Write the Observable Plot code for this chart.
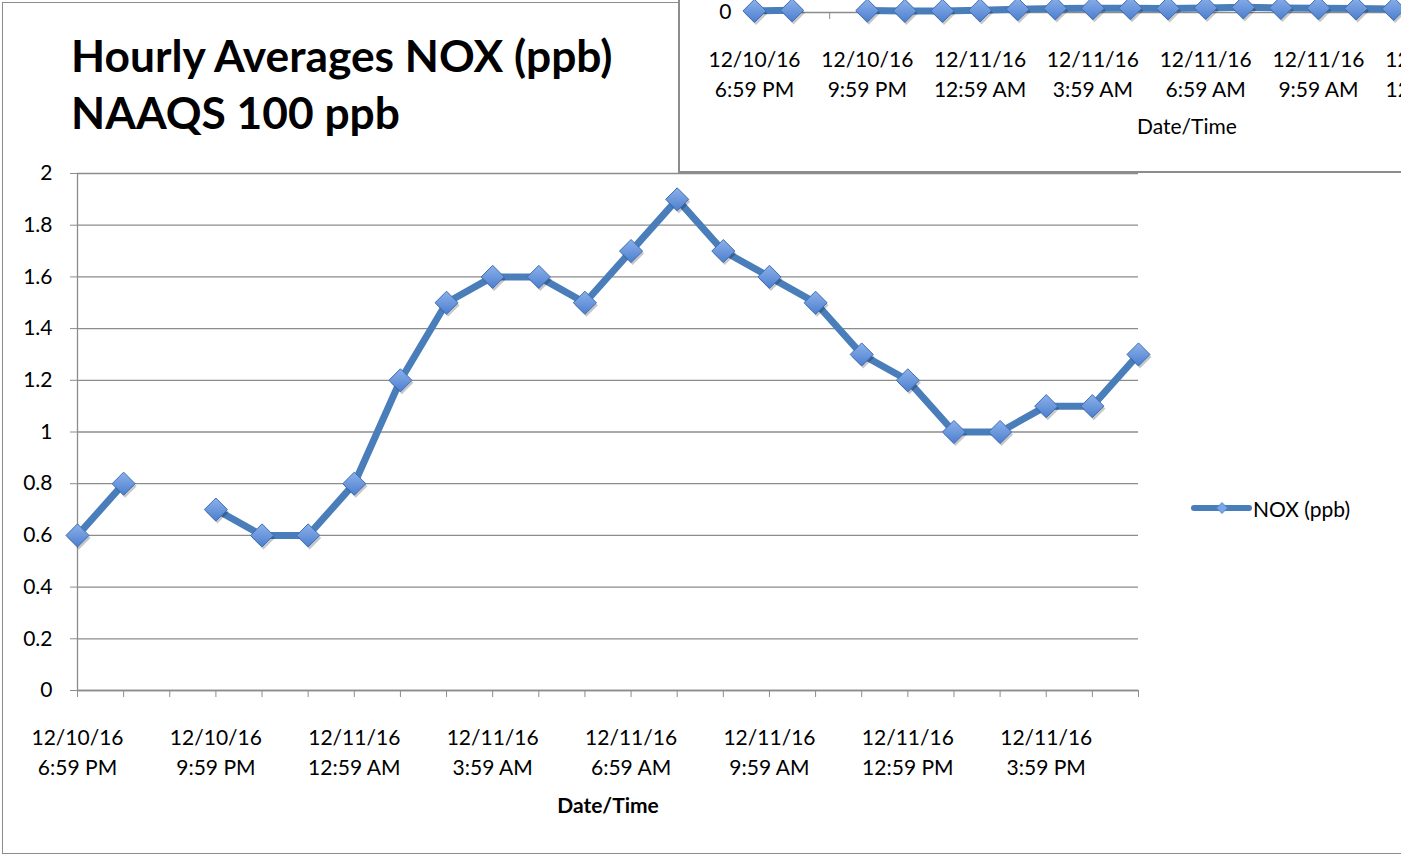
<!DOCTYPE html>
<html>
<head>
<meta charset="utf-8">
<script src="https://cdn.jsdelivr.net/npm/d3@7"></script>
<script src="https://cdn.jsdelivr.net/npm/@observablehq/plot@0.6"></script>
<style>
  html, body { margin:0; padding:0; width:1401px; height:855px; overflow:hidden; background:#fff; font-family:Lato, sans-serif; }
  #main { position:absolute; left:2px; top:2px; width:1500px; height:850px; border:1px solid #8c8c8c; border-right:none; background:#fff; }
  #title { position:absolute; left:68px; top:23px; font-weight:bold; font-size:44.3px; line-height:57px; color:#000; white-space:nowrap; }
  #chart { position:absolute; left:0; top:148px; width:1398px; }
  #legend { position:absolute; left:1185px; top:493px; height:24px; display:flex; align-items:center; font-size:21px; color:#000; white-space:nowrap; }
  #overlay { position:absolute; left:678px; top:0; width:800px; height:171px; border-left:2px solid #8c8c8c; border-bottom:2px solid #8c8c8c; background:#fff; overflow:hidden; }
  #chart2 { position:absolute; left:0; top:-312px; width:1000px; height:484px; }
  svg { max-width:none !important; }
</style>
</head>
<body>
<div id="main">
  <div id="title">Hourly Averages NOX (ppb)<br>NAAQS 100 ppb</div>
  <div id="chart"></div>
  <div id="legend"></div>
</div>
<div id="overlay"><div id="chart2"></div></div>
<script>
// ---- data ----
const times = [
  "12/10/16 6:59 PM", "12/10/16 7:59 PM", "12/10/16 8:59 PM", "12/10/16 9:59 PM",
  "12/10/16 10:59 PM", "12/10/16 11:59 PM", "12/11/16 12:59 AM", "12/11/16 1:59 AM",
  "12/11/16 2:59 AM", "12/11/16 3:59 AM", "12/11/16 4:59 AM", "12/11/16 5:59 AM",
  "12/11/16 6:59 AM", "12/11/16 7:59 AM", "12/11/16 8:59 AM", "12/11/16 9:59 AM",
  "12/11/16 10:59 AM", "12/11/16 11:59 AM", "12/11/16 12:59 PM", "12/11/16 1:59 PM",
  "12/11/16 2:59 PM", "12/11/16 3:59 PM", "12/11/16 4:59 PM", "12/11/16 5:59 PM"
];
const nox = [0.6, 0.8, null, 0.7, 0.6, 0.6, 0.8, 1.2, 1.5, 1.6, 1.6, 1.5,
             1.7, 1.9, 1.7, 1.6, 1.5, 1.3, 1.2, 1.0, 1.0, 1.1, 1.1, 1.3];
const labeledTimes = [
  "12/10/16 6:59 PM", "12/10/16 9:59 PM", "12/11/16 12:59 AM", "12/11/16 3:59 AM",
  "12/11/16 6:59 AM", "12/11/16 9:59 AM", "12/11/16 12:59 PM", "12/11/16 3:59 PM"
];
const yTicks = [0, 0.2, 0.4, 0.6, 0.8, 1, 1.2, 1.4, 1.6, 1.8, 2];
const seriesName = "NOX (ppb)";
const xTitle = "Date/Time";

// ---- table ----
const table = times.map((t, i) => ({time: t, value: nox[i] == null ? NaN : nox[i]}));
const points = table.filter(d => !isNaN(d.value));

const lineColor = "#4a7ebb";
const axisGray = "#8c8c8c";
const xFmt = d => labeledTimes.includes(d) ? d.replace(" ", "\n") : "";

function gradientDefs(id) {
  return () => {
    const defs = d3.create("svg:defs");
    const g = defs.append("linearGradient").attr("id", id)
      .attr("x1", 0).attr("y1", 0).attr("x2", 0).attr("y2", 1);
    g.append("stop").attr("offset", "0%").attr("stop-color", "#8db1ea");
    g.append("stop").attr("offset", "100%").attr("stop-color", "#4c7fcf");
    return defs.node();
  };
}

function seriesMarks(gid) {
  return [
    Plot.line(table, {x: "time", y: "value", stroke: lineColor, strokeWidth: 7, strokeLinejoin: "round"}),
    Plot.dot(points, {x: "time", y: "value", symbol: "diamond2", r: 10.4, fill: "#000", fillOpacity: 0.22, stroke: "none", dx: 1.5, dy: 2.5}),
    Plot.dot(points, {x: "time", y: "value", symbol: "diamond2", r: 10.4, fill: `url(#${gid})`, stroke: "#3d6eb4", strokeWidth: 1})
  ];
}

// ---- main chart ----
const chart = Plot.plot({
  width: 1398, height: 702,
  marginTop: 22, marginBottom: 163, marginLeft: 74, marginRight: 263,
  style: {fontFamily: "Lato, sans-serif", fontSize: "21px", color: "#000", background: "transparent", overflow: "visible", maxWidth: "none"},
  x: {type: "point", domain: times, padding: 0, round: false, label: null},
  y: {domain: [0, 2], label: null},
  marks: [
    gradientDefs("dg1"),
    Plot.gridY(yTicks, {stroke: axisGray, strokeOpacity: 1, strokeWidth: 1.3}),
    Plot.ruleX([times[0]], {stroke: axisGray, strokeWidth: 1.3}),
    Plot.ruleY([0], {stroke: axisGray, strokeWidth: 1.3}),
    Plot.axisY(yTicks, {tickSize: 7, tickPadding: 18, stroke: axisGray, fill: "#000",
      tickFormat: d => String(+d.toFixed(1))}),
    Plot.axisX(times, {tickSize: 7, tickPadding: 26, stroke: axisGray, fill: "#000",
      tickFormat: xFmt, lineHeight: 1.43, label: null}),
    Plot.text([xTitle], {frameAnchor: "bottom", lineAnchor: "middle", dy: 116, fontWeight: "bold", fill: "#000", fontSize: 21}),
    ...seriesMarks("dg1")
  ]
});
document.getElementById("chart").appendChild(chart);

// ---- legend ----
document.getElementById("legend").innerHTML =
  `<svg width="65" height="24" style="display:block"><line x1="6" y1="12" x2="61" y2="12" stroke="${lineColor}" stroke-width="6" stroke-linecap="round"/>` +
  `<path d="M34,6.5L39.5,12L34,17.5L28.5,12Z" fill="#7aa5e6" stroke="#4c7fcf" stroke-width="0.8"/></svg>` +
  `<span>${seriesName}</span>`;

// ---- overlapping second chart (only its bottom strip visible) ----
const chart2 = Plot.plot({
  width: 1000, height: 484,
  marginTop: 0, marginBottom: 160, marginLeft: 74, marginRight: 61.2,
  style: {fontFamily: "Lato, sans-serif", fontSize: "21px", color: "#000", background: "transparent", overflow: "visible", maxWidth: "none"},
  x: {type: "point", domain: times, padding: 0, round: false, label: null},
  y: {domain: [0, 120], label: null},
  marks: [
    gradientDefs("dg2"),
    Plot.ruleY([0], {stroke: axisGray, strokeWidth: 1.3}),
    Plot.axisY([0], {tickSize: 7, tickPadding: 16, stroke: axisGray, fill: "#000", tickFormat: d => String(d)}),
    Plot.axisX(times, {tickSize: 7, tickPadding: 26, stroke: axisGray, fill: "#000",
      tickFormat: xFmt, lineHeight: 1.43, label: null}),
    Plot.text([xTitle], {frameAnchor: "bottom", lineAnchor: "middle", dy: 115, fill: "#000", fontSize: 21}),
    ...seriesMarks("dg2")
  ]
});
document.getElementById("chart2").appendChild(chart2);
</script>
</body>
</html>
